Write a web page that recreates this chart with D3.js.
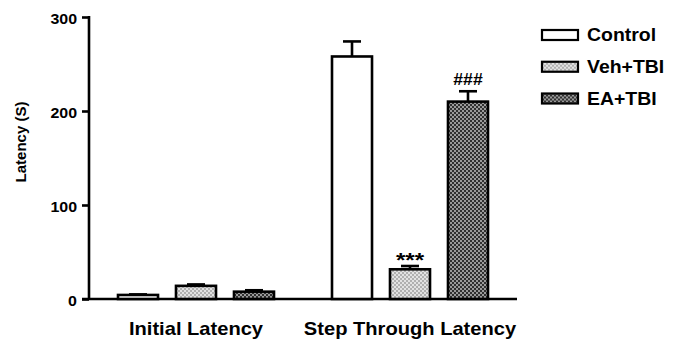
<!DOCTYPE html>
<html>
<head>
<meta charset="utf-8">
<script src="https://cdn.jsdelivr.net/npm/d3@7"></script>
<style>
  body { margin: 0; background: #fff; }
  text { font-family: "Liberation Sans", Arial, sans-serif; font-weight: bold; fill: #000; }
</style>
</head>
<body>
<svg id="chart" width="674" height="346"></svg>
<script>
// data
var groups = ["Initial Latency", "Step Through Latency"]
var series = ["Control", "Veh+TBI", "EA+TBI"]
var means = [[4.3, 14, 7.8], [258, 31.6, 210]]
var errors = [[0.6, 1.5, 1.5], [16, 3.5, 11]]
var marks = [["", "", ""], ["", "***", "###"]]
var yTicks = [0, 100, 200, 300]

var svg = d3.select("#chart")

// fills (patterns for the hatched groups)
var defs = svg.append("defs")
function checker(id, a, b) {
  var p = defs.append("pattern").attr("id", id)
      .attr("width", 4).attr("height", 4).attr("patternUnits", "userSpaceOnUse")
  p.append("rect").attr("width", 4).attr("height", 4).attr("fill", a)
  p.append("rect").attr("width", 2).attr("height", 2).attr("fill", b)
  p.append("rect").attr("x", 2).attr("y", 2).attr("width", 2).attr("height", 2).attr("fill", b)
}
checker("vehPat", "#e2e2e2", "#b0b0b0")
checker("eaPat", "#9a9a9a", "#303030")
var fills = ["#fff", "url(#vehPat)", "url(#eaPat)"]

var y = d3.scaleLinear().domain([0, 300]).range([299, 17])
var x0 = d3.scalePoint().domain(groups).range([89, 517]).padding(0.5)
var x1 = d3.scaleBand().domain(series).range([-78, 78]).paddingInner(0.31)

function stretchedText(sel, tx, ty, k) {
  return sel.attr("transform", "translate(" + tx + "," + ty + ") scale(" + k + ",1)")
}

// y axis
var yAxis = d3.axisLeft(y).tickValues(yTicks).tickSize(7).tickFormat(d3.format("d"))
var gy = svg.append("g").attr("transform", "translate(89,0)").call(yAxis)
gy.attr("font-size", null).attr("font-family", null)
gy.select(".domain").attr("stroke-width", 2.6).attr("d", "M0," + y(0) + "V" + (y(300) - 1))
gy.selectAll(".tick line").attr("stroke-width", 2.6)
gy.selectAll(".tick text").each(function(d) {
  var t = d3.select(this)
  t.attr("x", null).attr("dy", null).style("font-size", "14.5px").attr("text-anchor", "end")
   .attr("dominant-baseline", "central")
  stretchedText(t, -12, 1, 1.1)
})

// x axis line
svg.append("line").attr("x1", 82).attr("x2", 517).attr("y1", y(0)).attr("y2", y(0))
    .attr("stroke", "#000").attr("stroke-width", 2.6)

// y label
svg.append("text").attr("transform", "translate(26,142) rotate(-90)")
    .attr("text-anchor", "middle").style("font-size", "15px").text("Latency (S)")

// group labels
groups.forEach(function(g) {
  stretchedText(svg.append("text"), x0(g), 335, 1.15)
    .attr("text-anchor", "middle").style("font-size", "17.5px").text(g)
})

// bars
groups.forEach(function(g, gi) {
  var gg = svg.append("g").attr("transform", "translate(" + x0(g) + ",0)")
  series.forEach(function(s, si) {
    var v = means[gi][si], e = errors[gi][si]
    var cx = x1(s) + x1.bandwidth() / 2
    // error bar
    gg.append("line").attr("x1", cx).attr("x2", cx).attr("y1", y(v)).attr("y2", y(v + e))
      .attr("stroke", "#000").attr("stroke-width", 2.6)
    gg.append("line").attr("x1", cx - 9).attr("x2", cx + 9).attr("y1", y(v + e)).attr("y2", y(v + e))
      .attr("stroke", "#000").attr("stroke-width", 2.6)
    gg.append("rect").attr("x", x1(s)).attr("y", y(v)).attr("width", x1.bandwidth())
      .attr("height", y(0) - y(v)).attr("fill", fills[si])
      .attr("stroke", "#000").attr("stroke-width", 2.6)
    var m = marks[gi][si]
    if (m == "***") {
      stretchedText(gg.append("text"), cx, y(v + e) + 1, 1.15)
        .attr("text-anchor", "middle").style("font-size", "21px").text(m)
    } else if (m) {
      stretchedText(gg.append("text"), cx, y(v + e) - 6, 1.1)
        .attr("text-anchor", "middle").style("font-size", "16px").text(m)
    }
  })
})

// legend
var legend = svg.append("g").attr("transform", "translate(542,35)")
series.forEach(function(s, si) {
  var row = legend.append("g").attr("transform", "translate(0," + si * 31.75 + ")")
  row.append("rect").attr("x", 0).attr("y", -5).attr("width", 36).attr("height", 10)
    .attr("fill", fills[si]).attr("stroke", "#000").attr("stroke-width", 2.2)
  stretchedText(row.append("text"), 45, 0, 1.08).attr("dominant-baseline", "central")
    .style("font-size", "18px").text(s)
})
</script>
</body>
</html>
